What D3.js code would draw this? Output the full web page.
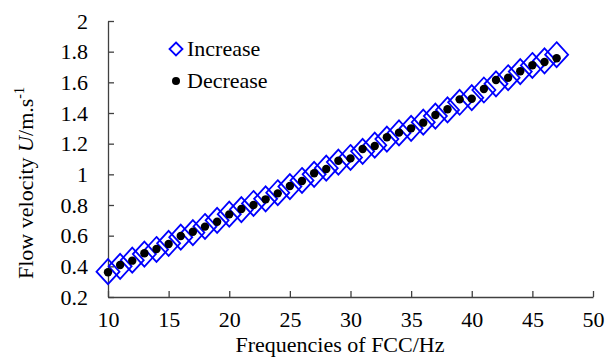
<!DOCTYPE html>
<html>
<head>
<meta charset="utf-8">
<script src="https://cdn.jsdelivr.net/npm/d3@7"></script>
<style>
  body { margin: 0; background: #fff; }
  text { font-family: "Liberation Serif", "Times New Roman", serif; fill: #000; }
</style>
</head>
<body>
<svg id="chart" width="606" height="358"></svg>
<script>
const freq = d3.range(10, 48);
const increase = [0.365, 0.40, 0.44, 0.48, 0.51, 0.55, 0.59, 0.62, 0.66, 0.70,
  0.74, 0.77, 0.81, 0.84, 0.88, 0.92, 0.96, 1.00, 1.04, 1.08,
  1.11, 1.15, 1.19, 1.23, 1.27, 1.30, 1.34, 1.38, 1.42, 1.47,
  1.50, 1.55, 1.59, 1.63, 1.67, 1.71, 1.74, 1.78];
const decrease = [0.361, 0.409, 0.437, 0.485, 0.513, 0.546, 0.598, 0.626, 0.659, 0.691,
  0.739, 0.774, 0.800, 0.837, 0.876, 0.924, 0.957, 1.007, 1.035, 1.089,
  1.104, 1.165, 1.185, 1.242, 1.272, 1.300, 1.337, 1.387, 1.424, 1.489,
  1.493, 1.557, 1.615, 1.630, 1.672, 1.711, 1.733, 1.757];
const xTicks = [10, 15, 20, 25, 30, 35, 40, 45, 50];
const yTicks = [0.2, 0.4, 0.6, 0.8, 1, 1.2, 1.4, 1.6, 1.8, 2];

const svg = d3.select('#chart');
const x = d3.scaleLinear().domain([10, 50]).range([108, 593]);
const y = d3.scaleLinear().domain([0.2, 2]).range([297, 21]);
const axisColor = '#404040';

// axes, ticks pointing inward
const xAxis = svg.append('g')
  .attr('transform', 'translate(0,297)')
  .call(d3.axisBottom(x).tickValues(xTicks).tickSizeInner(-6).tickSizeOuter(0).tickPadding(14)
    .tickFormat(d3.format('d')));
const yAxis = svg.append('g')
  .attr('transform', 'translate(108,0)')
  .call(d3.axisLeft(y).tickValues(yTicks).tickSizeInner(-6).tickSizeOuter(0).tickPadding(20)
    .tickFormat(d => d === 1 || d === 2 ? String(d) : d3.format('.1f')(d)));
[xAxis, yAxis].forEach(g => {
  g.select('.domain').attr('stroke', axisColor).attr('stroke-width', 1.3);
  g.selectAll('.tick line').attr('stroke', axisColor).attr('stroke-width', 1.3);
  g.selectAll('.tick text').attr('font-size', 22)
    .attr('font-family', '"Liberation Serif", serif').attr('fill', '#000');
});
xAxis.selectAll('.tick text').attr('dy', '0.71em');

// axis titles
svg.append('text')
  .attr('x', 340).attr('y', 352)
  .attr('text-anchor', 'middle').attr('font-size', 22)
  .text('Frequencies of FCC/Hz');

const yTitle = svg.append('text')
  .attr('transform', 'translate(33,183) rotate(-90)')
  .attr('text-anchor', 'middle').attr('font-size', 22);
yTitle.append('tspan').text('Flow velocity ');
yTitle.append('tspan').attr('font-style', 'italic').text('U');
yTitle.append('tspan').text('/m.s');
yTitle.append('tspan').attr('font-size', 14).attr('dy', -9).text('-1');

// markers
const diamond = (cx, cy, hw, hh) =>
  `M${cx},${cy - hh}L${cx + hw},${cy}L${cx},${cy + hh}L${cx - hw},${cy}Z`;

svg.append('g').selectAll('path')
  .data(freq.map((f, i) => ({ f, v: increase[i] })))
  .join('path')
  .attr('d', d => diamond(x(d.f), y(d.v), 11.5, 12.5))
  .attr('fill', 'none').attr('stroke', '#0000ff').attr('stroke-width', 1.8);

svg.append('g').selectAll('circle')
  .data(freq.map((f, i) => ({ f, v: decrease[i] })))
  .join('circle')
  .attr('cx', d => x(d.f)).attr('cy', d => y(d.v)).attr('r', 4.2)
  .attr('fill', '#000');

// legend
const legend = svg.append('g');
legend.append('path').attr('d', diamond(176, 49, 6.5, 6.5))
  .attr('fill', 'none').attr('stroke', '#0000ff').attr('stroke-width', 1.8);
legend.append('text').attr('x', 187).attr('y', 56).attr('font-size', 22).text('Increase');
legend.append('circle').attr('cx', 176).attr('cy', 81).attr('r', 4).attr('fill', '#000');
legend.append('text').attr('x', 187).attr('y', 88).attr('font-size', 22).text('Decrease');
</script>
</body>
</html>
